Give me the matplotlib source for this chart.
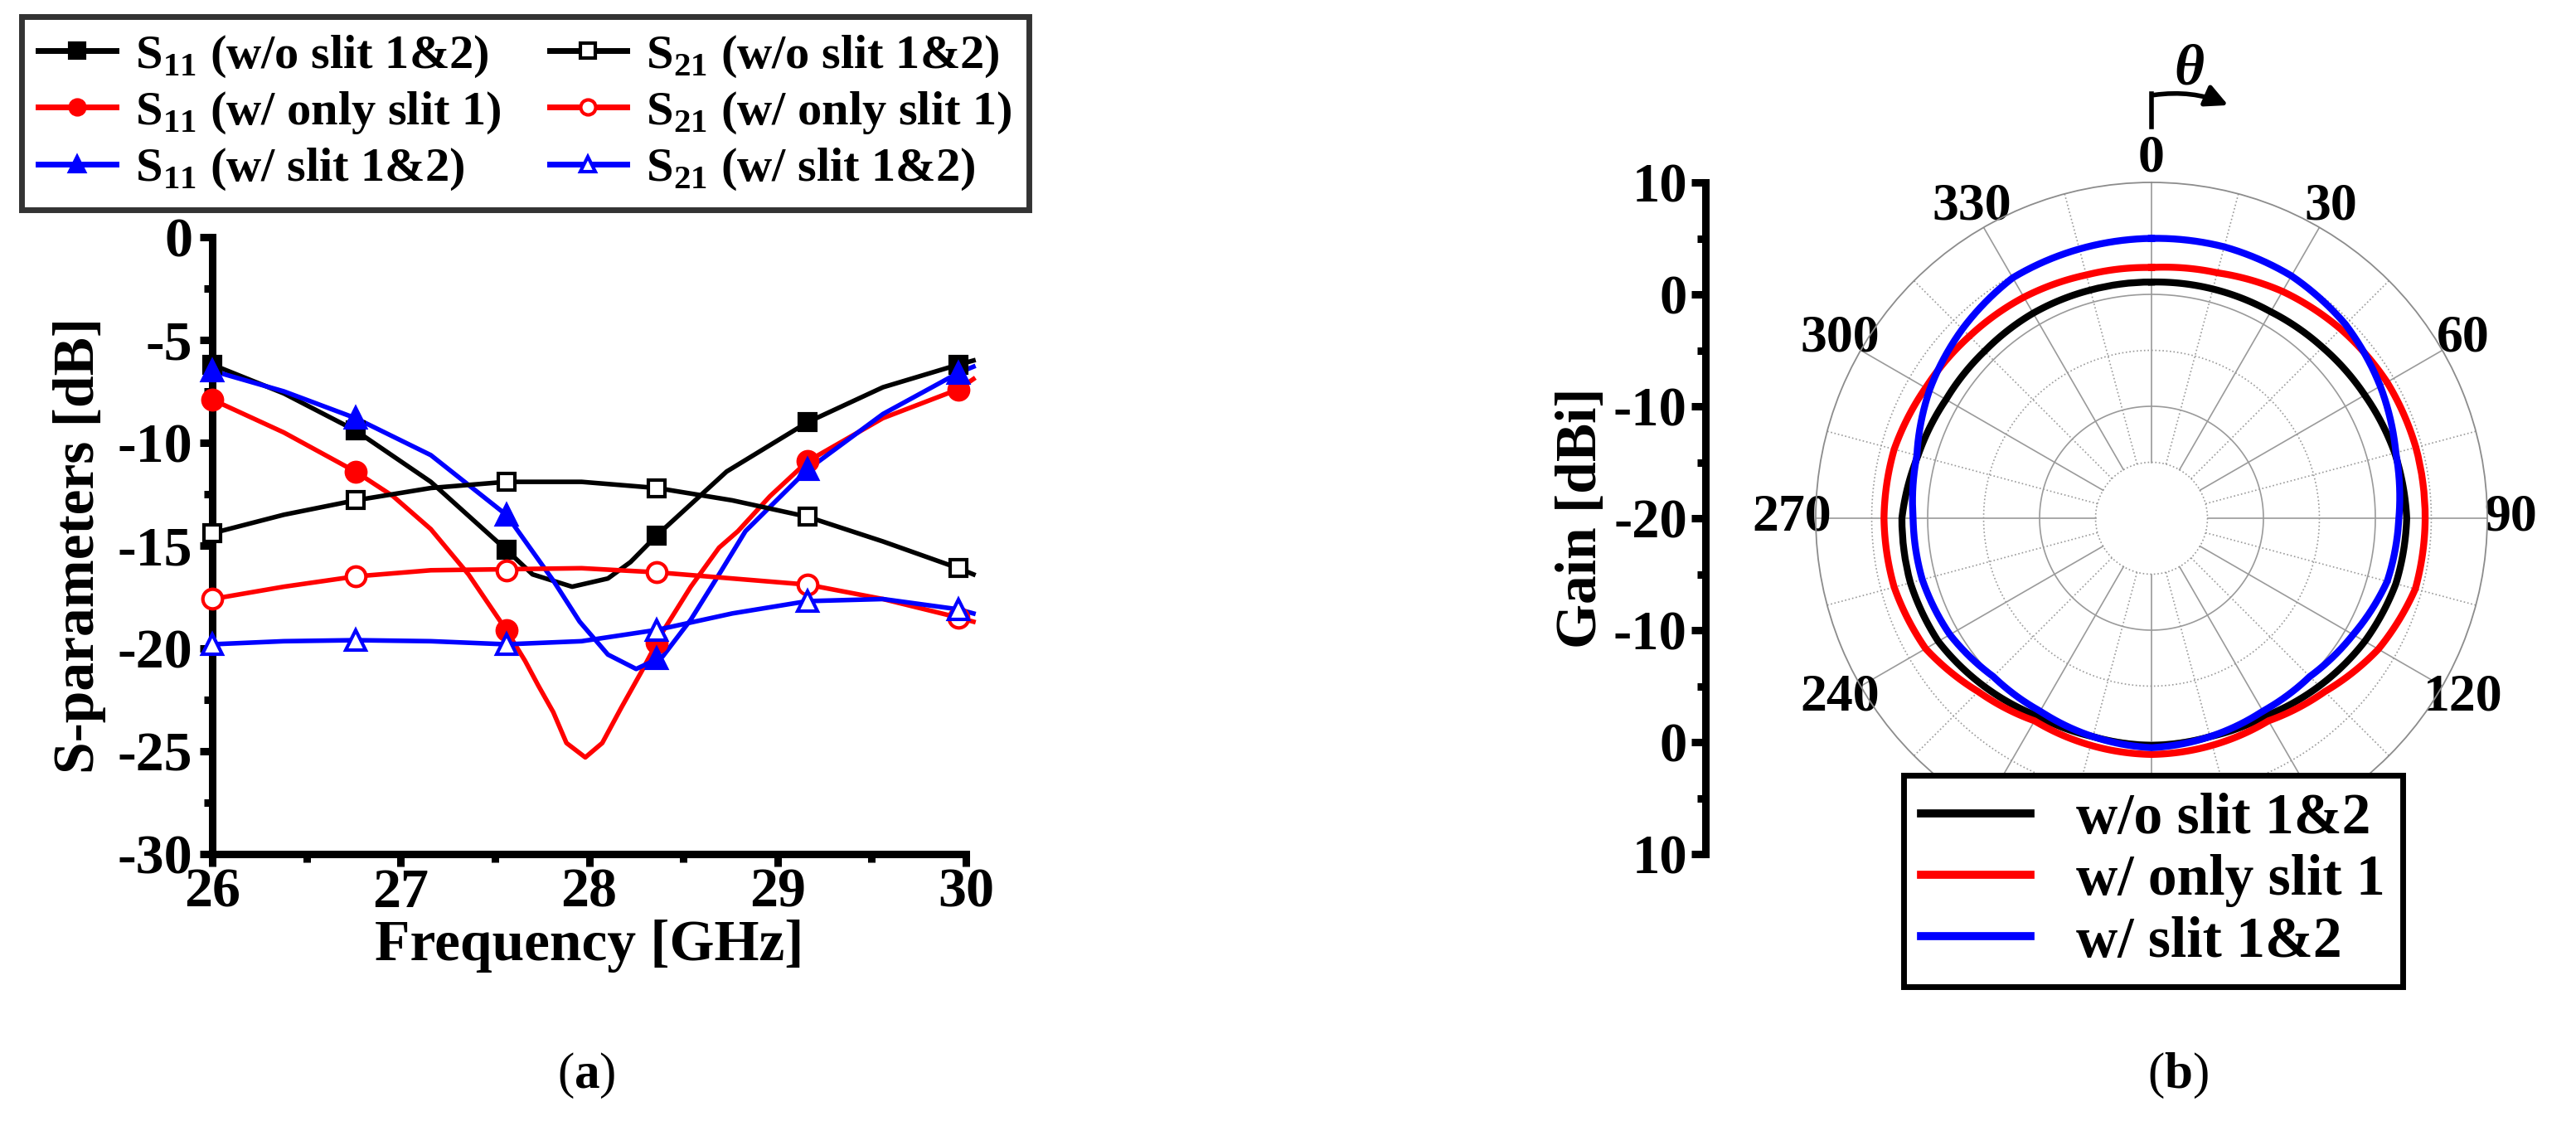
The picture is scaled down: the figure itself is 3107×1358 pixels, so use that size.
import numpy as np
import matplotlib.pyplot as plt
from matplotlib.lines import Line2D
from matplotlib.patches import FancyArrowPatch

plt.rcParams['font.family'] = ['Liberation Serif', 'DejaVu Serif']
plt.rcParams['font.weight'] = 'bold'
plt.rcParams['axes.labelweight'] = 'bold'
plt.rcParams['mathtext.fontset'] = 'custom'
plt.rcParams['mathtext.rm'] = 'Liberation Serif'
plt.rcParams['mathtext.bf'] = 'Liberation Serif:bold'

# ---- (a) S-parameters, marker points ----
freq_pts = [26.0, 26.76, 27.56, 28.36, 29.16, 29.96]
s11_wo_pts = [-6.2, -9.4, -15.2, -14.5, -9.0, -6.2]
s21_wo_pts = [-14.4, -12.8, -11.9, -12.2, -13.6, -16.1]
s11_s1_pts = [-7.9, -11.4, -19.1, -19.7, -10.9, -7.4]
s21_s1_pts = [-17.6, -16.5, -16.2, -16.3, -16.9, -18.5]
s11_s12_pts = [-6.5, -8.8, -13.5, -20.5, -11.3, -6.6]
s21_s12_pts = [-19.8, -19.6, -19.8, -19.1, -17.7, -18.1]

# curve traces
s11_wo_f = [26.0, 26.38, 26.76, 27.16, 27.56, 27.70, 27.91, 28.10, 28.22, 28.36, 28.73, 29.16, 29.56, 29.96, 30.04]
s11_wo_v = [-6.2, -7.6, -9.4, -11.9, -15.2, -16.4, -17.0, -16.6, -15.8, -14.5, -11.4, -9.0, -7.3, -6.2, -6.0]
s21_wo_f = [26.0, 26.38, 26.76, 27.16, 27.56, 27.96, 28.36, 28.76, 29.16, 29.56, 29.96, 30.04]
s21_wo_v = [-14.4, -13.5, -12.8, -12.2, -11.9, -11.9, -12.2, -12.8, -13.6, -14.8, -16.1, -16.4]
s11_s1_f = [26.0, 26.38, 26.76, 26.96, 27.16, 27.36, 27.56, 27.66, 27.73, 27.81, 27.88, 27.98,
            28.07, 28.17, 28.28, 28.39, 28.54, 28.69, 28.79, 28.96, 29.16, 29.56, 29.96, 30.04]
s11_s1_v = [-7.9, -9.5, -11.4, -12.6, -14.2, -16.4, -19.1, -20.6, -21.8, -23.1, -24.6, -25.3,
            -24.6, -22.9, -21.1, -19.2, -17.0, -15.1, -14.3, -12.6, -10.9, -8.8, -7.4, -6.9]
s21_s1_f = [26.0, 26.38, 26.76, 27.16, 27.56, 27.96, 28.36, 28.76, 29.16, 29.56, 29.96, 30.04]
s21_s1_v = [-17.6, -17.0, -16.5, -16.2, -16.15, -16.1, -16.3, -16.6, -16.9, -17.6, -18.5, -18.7]
s11_s12_f = [26.0, 26.38, 26.76, 27.16, 27.56, 27.60, 27.81, 27.95, 28.10, 28.25, 28.39, 28.54,
             28.69, 28.83, 29.16, 29.56, 29.96, 30.04]
s11_s12_v = [-6.5, -7.5, -8.8, -10.6, -13.5, -14.0, -16.7, -18.7, -20.3, -21.0, -20.4, -18.6,
             -16.4, -14.3, -11.3, -8.6, -6.6, -6.3]
s21_s12_f = [26.0, 26.38, 26.76, 27.16, 27.56, 27.96, 28.36, 28.76, 29.16, 29.56, 29.96, 30.04]
s21_s12_v = [-19.8, -19.65, -19.6, -19.65, -19.8, -19.65, -19.1, -18.3, -17.7, -17.6, -18.1, -18.3]

# ---- (b) gain pattern, dBi every 15 deg ----
theta_deg = [0, 15, 30, 45, 60, 75, 90, 105, 120, 135, 150, 165,
             180, 195, 210, 225, 240, 255, 270, 285, 300, 315, 330, 345]
gain_wo = [1.1, 1.2, 1.3, 1.6, 2.0, 2.5, 2.8, 2.6, 2.0, 1.2, 0.4, 0.2,
           0.3, 0.2, 0.4, 1.2, 2.0, 2.3, 2.3, 1.6, 1.2, 1.1, 1.15, 1.1]
gain_s1 = [2.4, 2.7, 3.4, 3.9, 4.3, 4.45, 4.45, 4.4, 3.4, 1.9, 0.9, 1.0,
           1.1, 1.0, 0.9, 1.9, 3.3, 3.8, 3.9, 3.8, 3.3, 3.0, 2.8, 2.5]
gain_s12 = [5.0, 5.1, 5.0, 4.5, 3.6, 2.6, 2.1, 1.8, 0.8, 0.0, -0.1, 0.2,
            0.5, 0.2, -0.1, 0.0, 0.8, 1.2, 1.3, 1.7, 2.9, 3.9, 4.8, 4.9]
angle_labels = ['0', '30', '60', '90', '120', '', '', '', '240', '270', '300', '330']
gain_ticks = ['10', '0', '-10', '-20', '-10', '0', '10']

W, H = 3107, 1358
fig = plt.figure(figsize=(W / 100, H / 100), dpi=100)

# ---------------- left panel ----------------
ax = fig.add_axes([256 / W, 1 - 1030 / H, (1165 - 256) / W, (1030 - 286) / H])
series = [
    (s11_wo_f, s11_wo_v, s11_wo_pts, 'black', 's', True),
    (s11_s1_f, s11_s1_v, s11_s1_pts, 'red', 'o', True),
    (s11_s12_f, s11_s12_v, s11_s12_pts, 'blue', '^', True),
    (s21_wo_f, s21_wo_v, s21_wo_pts, 'black', 's', False),
    (s21_s1_f, s21_s1_v, s21_s1_pts, 'red', 'o', False),
    (s21_s12_f, s21_s12_v, s21_s12_pts, 'blue', '^', False),
]
for f, v, pts, c, m, filled in series:
    ax.plot(f, v, color=c, lw=4, clip_on=False, zorder=3)
for f, v, pts, c, m, filled in series:
    ms = 15 if m == 's' else 17
    ax.plot(freq_pts, pts, ls='none', marker=m, ms=ms, mec=c, mew=3,
            mfc=c if filled else 'white', clip_on=False, zorder=4)

ax.set_xlim(26, 30)
ax.set_ylim(-30, 0)
ax.set_xticks([26, 27, 28, 29, 30])
ax.set_yticks([0, -5, -10, -15, -20, -25, -30])
ax.set_yticklabels(['0', '-5', '-10', '-15', '-20', '-25', '-30'])
ax.set_xticks(np.arange(26.5, 30, 1), minor=True)
ax.set_yticks(np.arange(-27.5, 0, 5), minor=True)
for s in ['top', 'right']:
    ax.spines[s].set_visible(False)
for s in ['left', 'bottom']:
    ax.spines[s].set_linewidth(6.5)
ax.tick_params(which='major', direction='out', length=11, width=6.5, labelsize=49)
ax.tick_params(which='minor', direction='out', length=7, width=6.5)
ax.tick_params(axis='x', which='major', pad=1)
ax.tick_params(axis='y', which='major', pad=6)
ax.set_xlabel('Frequency [GHz]', fontsize=50, labelpad=1)
ax.set_ylabel('S-parameters [dB]', fontsize=50, labelpad=10)

labels_a = [r'S$_{\mathbf{11}}$ (w/o slit 1&2)', r'S$_{\mathbf{11}}$ (w/ only slit 1)',
            r'S$_{\mathbf{11}}$ (w/ slit 1&2)', r'S$_{\mathbf{21}}$ (w/o slit 1&2)',
            r'S$_{\mathbf{21}}$ (w/ only slit 1)', r'S$_{\mathbf{21}}$ (w/ slit 1&2)']
handles_a = []
for f, v, pts, c, m, filled in series:
    handles_a.append(Line2D([], [], color=c, lw=5, marker=m, ms=13, mec=c, mew=3,
                            mfc=c if filled else 'white'))
leg = fig.legend(handles_a, labels_a, ncol=2, loc='upper left',
                 bbox_to_anchor=(26 / W, 1 - 20 / H), fontsize=42, frameon=True,
                 fancybox=False, edgecolor='black', borderaxespad=0,
                 handlelength=1.6, handletextpad=0.4, columnspacing=1.0,
                 labelspacing=0.22, borderpad=0.35)
leg.get_frame().set_linewidth(5)

# ---------------- right panel ----------------
cx, cy, rad = 2595, 625, 405
pax = fig.add_axes([(cx - rad) / W, (H - cy - rad) / H, 2 * rad / W, 2 * rad / H],
                   projection='polar')
pax.set_theta_zero_location('N')
pax.set_theta_direction(-1)
pax.set_rlim(-20, 10)
pax.grid(False)
pax.set_yticks([])
pax.spines['polar'].set_color('#8c8c8c')
pax.spines['polar'].set_linewidth(1.3)
tt = np.linspace(0, 2 * np.pi, 361)
for r, ls in [(-15, ':'), (-10, '-'), (-5, ':'), (0, '-'), (5, ':')]:
    pax.plot(tt, np.full_like(tt, r), color='#9a9a9a', lw=1.2, ls=ls, zorder=1)
for a in range(0, 360, 15):
    ls = '-' if a % 30 == 0 else ':'
    pax.plot([np.radians(a)] * 2, [-15, 10], color='#9a9a9a', lw=1.2, ls=ls, zorder=1)
pax.set_thetagrids(range(0, 360, 30), angle_labels, fontsize=46, fontweight='bold')
pax.tick_params(axis='x', pad=10)

th = np.radians(theta_deg + [360])
for g, c in [(gain_wo, 'black'), (gain_s1, 'red'), (gain_s12, 'blue')]:
    ln, = pax.plot(th, g + [g[0]], color=c, lw=6, zorder=3)
    ln.get_path()._interpolation_steps = 40

gax = fig.add_axes([2057 / W, (H - cy - rad) / H, 0.0005, 2 * rad / H])
gax.set_ylim(-30, 30)
gax.set_xticks([])
gax.set_yticks([30, 20, 10, 0, -10, -20, -30])
gax.set_yticklabels(gain_ticks)
gax.set_yticks(np.arange(-25, 30, 10), minor=True)
for s in ['top', 'right', 'bottom']:
    gax.spines[s].set_visible(False)
gax.spines['left'].set_linewidth(6.5)
gax.patch.set_visible(False)
gax.tick_params(which='major', direction='out', length=12, width=6.5, labelsize=48, pad=4)
gax.tick_params(which='minor', direction='out', length=7, width=6.5)
gax.set_ylabel('Gain [dBi]', fontsize=50, labelpad=4)

handles_b = [Line2D([], [], color=c, lw=7) for c in ['black', 'red', 'blue']]
leg2 = fig.legend(handles_b, ['w/o slit 1&2', 'w/ only slit 1', 'w/ slit 1&2'],
                  loc='upper left', bbox_to_anchor=(2296 / W, 1 - 935 / H),
                  fontsize=50, frameon=True, fancybox=False, edgecolor='black',
                  borderaxespad=0, handlelength=1.9, handletextpad=0.8,
                  labelspacing=0.15, borderpad=0.3, framealpha=1)
leg2.get_frame().set_linewidth(5)

# theta marker above the 0 label
fig.add_artist(Line2D([cx / W, cx / W], [1 - 153 / H, 1 - 113 / H], color='black', lw=4))
fig.add_artist(FancyArrowPatch((cx / W, 1 - 115 / H), (2690 / W, 1 - 128 / H),
                               transform=fig.transFigure, arrowstyle='-|>',
                               mutation_scale=40, lw=4, color='black',
                               connectionstyle='arc3,rad=-0.15'))
fig.text(2640 / W, 1 - 85 / H, 'θ', fontsize=50, fontweight='bold', fontstyle='italic',
         ha='center', va='center')

fig.text(707 / W, 1 - 1297 / H, r'($\mathbf{a}$)', fontsize=44, fontweight='normal',
         ha='center', va='center')
fig.text(2627 / W, 1 - 1297 / H, r'($\mathbf{b}$)', fontsize=44, fontweight='normal',
         ha='center', va='center')

fig.savefig('out.png', dpi=100)
